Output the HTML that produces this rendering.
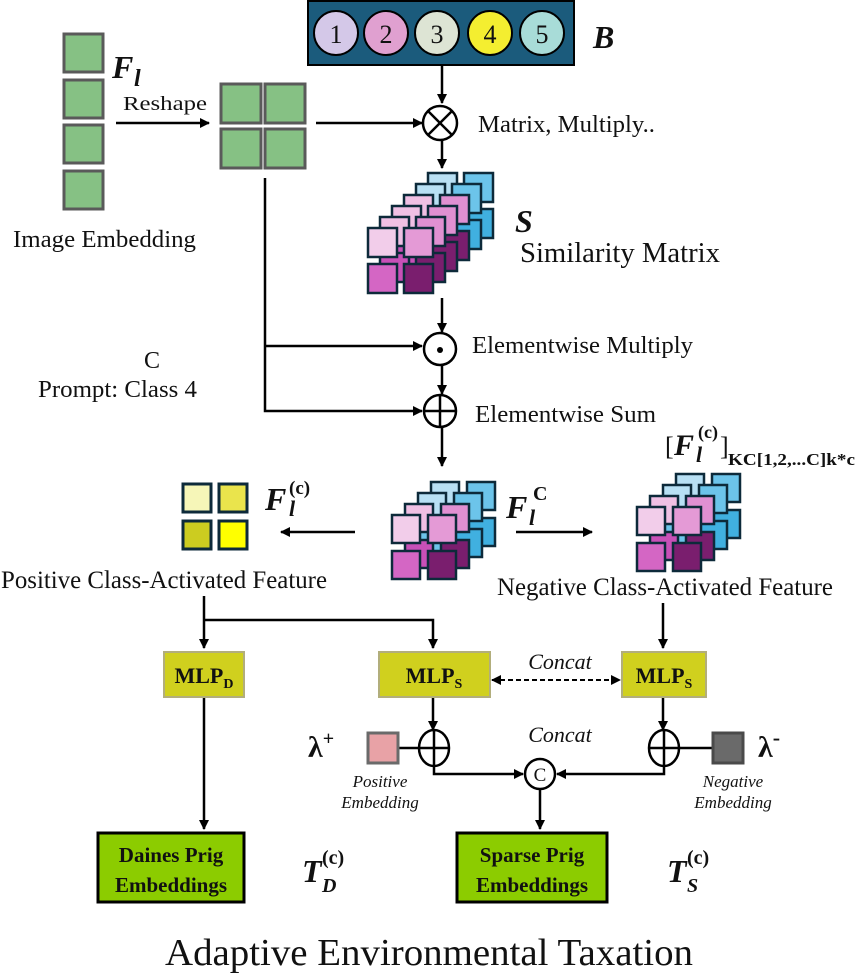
<!DOCTYPE html>
<html><head><meta charset="utf-8"><style>
html,body{margin:0;padding:0;background:#fff}
svg{display:block}
text{font-family:"Liberation Serif",serif;fill:#111}
</style></head><body>
<svg id="s" width="858" height="979" viewBox="0 0 858 979" xmlns="http://www.w3.org/2000/svg">
<defs>
<marker id="a" markerWidth="10" markerHeight="10" refX="9" refY="5" orient="auto" markerUnits="userSpaceOnUse"><path d="M0,0 L10,5 L0,10 z" fill="#000"/></marker>
<marker id="b" markerWidth="10" markerHeight="10" refX="1" refY="5" orient="auto" markerUnits="userSpaceOnUse"><path d="M10,0 L0,5 L10,10 z" fill="#000"/></marker>
</defs>
<g fill="#86c184" stroke="#5a5a5a" stroke-width="3">
<rect x="64" y="34" width="39" height="38"/><rect x="64" y="80" width="39" height="38"/>
<rect x="64" y="125" width="39" height="38"/><rect x="64" y="171" width="39" height="38"/>
<rect x="221" y="84" width="40" height="39"/><rect x="265" y="84" width="40" height="39"/>
<rect x="221" y="129" width="40" height="39"/><rect x="265" y="129" width="40" height="39"/>
</g>
<text x="112" y="78" font-size="32" font-weight="bold" font-style="italic">F</text>
<text x="134" y="86" font-size="24" font-weight="bold" font-style="italic">l</text>
<text x="123" y="110" font-size="20" textLength="84" lengthAdjust="spacingAndGlyphs">Reshape</text>
<line x1="116" y1="123" x2="209" y2="123" stroke="#000" stroke-width="2.5" marker-end="url(#a)"/>
<text x="13" y="247" font-size="24.5" textLength="183" lengthAdjust="spacingAndGlyphs">Image Embedding</text>
<rect x="308" y="1" width="266" height="64" fill="#1b5b7c" stroke="#000" stroke-width="2"/>
<g stroke="#000" stroke-width="2">
<circle cx="336" cy="33" r="22" fill="#d4c8e8"/><circle cx="386" cy="33" r="22" fill="#e0a0d0"/>
<circle cx="437" cy="33" r="22" fill="#dde4d4"/><circle cx="490" cy="33" r="22" fill="#f4ee30"/>
<circle cx="542" cy="33" r="22" fill="#a8dcd8"/></g>
<g font-size="26" text-anchor="middle"><text x="336" y="43">1</text><text x="386" y="43">2</text><text x="437" y="43">3</text><text x="490" y="43">4</text><text x="542" y="43">5</text></g>
<text x="593" y="48" font-size="32" font-weight="bold" font-style="italic">B</text>
<g stroke="#000" stroke-width="2.5" fill="none">
<line x1="442" y1="66" x2="442" y2="103" marker-end="url(#a)"/>
<line x1="316" y1="123" x2="422" y2="123" marker-end="url(#a)"/>
<circle cx="440" cy="123" r="17"/><line x1="428" y1="111" x2="452" y2="135"/><line x1="452" y1="111" x2="428" y2="135"/>
<line x1="442" y1="140" x2="442" y2="168" marker-end="url(#a)"/>
<line x1="442" y1="298" x2="442" y2="332" marker-end="url(#a)"/>
<circle cx="440" cy="349" r="16"/>
<line x1="442" y1="366" x2="442" y2="394" marker-end="url(#a)"/>
<circle cx="440" cy="411" r="16"/><line x1="424" y1="411" x2="456" y2="411"/><line x1="440" y1="395" x2="440" y2="427"/>
<line x1="442" y1="428" x2="442" y2="466" marker-end="url(#a)"/>
<polyline points="265,178 265,411 422,411" marker-end="url(#a)"/>
<line x1="265" y1="346" x2="422" y2="346" marker-end="url(#a)"/>
<line x1="355" y1="532" x2="281" y2="532" marker-end="url(#a)"/>
<line x1="516" y1="532" x2="592" y2="532" marker-end="url(#a)"/>
</g>
<circle cx="440" cy="350" r="3" fill="#000"/>
<text x="478" y="132" font-size="24.5" textLength="177" lengthAdjust="spacingAndGlyphs">Matrix, Multiply..</text>
<text x="515" y="232" font-size="32" font-weight="bold" font-style="italic">S</text>
<text x="520" y="262" font-size="28.5" textLength="200" lengthAdjust="spacingAndGlyphs">Similarity Matrix</text>
<text x="472" y="353" font-size="24.5" textLength="221" lengthAdjust="spacingAndGlyphs">Elementwise Multiply</text>
<text x="475" y="422" font-size="24.5" textLength="181" lengthAdjust="spacingAndGlyphs">Elementwise Sum</text>
<text x="152" y="368" font-size="24" text-anchor="middle">C</text>
<text x="38" y="397" font-size="24.5" textLength="159" lengthAdjust="spacingAndGlyphs">Prompt: Class 4</text>
<g id="cubes"></g>
<g stroke="#0d2a3a" stroke-width="3">
<rect x="183" y="484" width="28" height="28" fill="#f6f6b8"/><rect x="219" y="484" width="28" height="28" fill="#eae44c"/>
<rect x="183" y="521" width="28" height="28" fill="#cccc20"/><rect x="219" y="521" width="28" height="28" fill="#ffff00"/>
</g>
<text x="265" y="510" font-size="32" font-weight="bold" font-style="italic">F</text>
<text x="289" y="516" font-size="22" font-weight="bold" font-style="italic">l</text>
<text x="289" y="494" font-size="19" font-weight="bold">(c)</text>
<text x="506" y="518" font-size="32" font-weight="bold" font-style="italic">F</text>
<text x="529" y="525" font-size="22" font-weight="bold" font-style="italic">l</text>
<text x="533" y="500" font-size="20" font-weight="bold">C</text>
<text x="665" y="455" font-size="26">[</text>
<text x="674" y="455" font-size="30" font-weight="bold" font-style="italic">F</text>
<text x="696" y="462" font-size="22" font-weight="bold" font-style="italic">l</text>
<text x="698" y="438" font-size="18" font-weight="bold">(c)</text>
<text x="720" y="455" font-size="26">]</text>
<text x="728" y="465" font-size="17" font-weight="bold" textLength="127" lengthAdjust="spacingAndGlyphs">KC[1,2,...C]k*c</text>
<text x="1" y="588" font-size="25" textLength="326" lengthAdjust="spacingAndGlyphs">Positive Class-Activated Feature</text>
<text x="497" y="595" font-size="25" textLength="336" lengthAdjust="spacingAndGlyphs">Negative Class-Activated Feature</text>
<g stroke="#000" stroke-width="2.5" fill="none">
<line x1="204" y1="596" x2="204" y2="648" marker-end="url(#a)"/>
<polyline points="204,620 433,620 433,648" marker-end="url(#a)"/>
<line x1="663" y1="603" x2="663" y2="648" marker-end="url(#a)"/>
<line x1="204" y1="697" x2="204" y2="829" marker-end="url(#a)"/>
<line x1="433" y1="697" x2="433" y2="730" marker-end="url(#a)"/>
<line x1="663" y1="697" x2="663" y2="730" marker-end="url(#a)"/>
<ellipse cx="434" cy="748" rx="15" ry="18"/><line x1="419" y1="748" x2="449" y2="748"/><line x1="434" y1="730" x2="434" y2="766"/>
<ellipse cx="664" cy="748" rx="15" ry="18"/><line x1="649" y1="748" x2="679" y2="748"/><line x1="664" y1="730" x2="664" y2="766"/>
<line x1="398" y1="748" x2="419" y2="748"/><line x1="679" y1="748" x2="712" y2="748"/>
<polyline points="434,766 434,774 523,774" marker-end="url(#a)"/>
<polyline points="664,766 664,774 557,774" marker-end="url(#a)"/>
<circle cx="540" cy="774" r="15"/>
<line x1="540" y1="789" x2="540" y2="829" marker-end="url(#a)"/>
<line x1="492" y1="680" x2="620" y2="680" stroke-dasharray="5,3" stroke-width="2" marker-end="url(#a)" marker-start="url(#b)"/>
</g>
<text x="540" y="781" font-size="19" text-anchor="middle">C</text>
<g fill="#d0d01e" stroke="#b2ae7c" stroke-width="2">
<rect x="164" y="652" width="80" height="45"/><rect x="379" y="652" width="111" height="45"/><rect x="622" y="652" width="84" height="45"/>
</g>
<g font-size="22" font-weight="bold" text-anchor="middle">
<text x="204" y="683">MLP<tspan font-size="14" dy="5">D</tspan></text>
<text x="434" y="683">MLP<tspan font-size="14" dy="5">S</tspan></text>
<text x="664" y="683">MLP<tspan font-size="14" dy="5">S</tspan></text>
</g>
<text x="560" y="669" font-size="22" font-style="italic" text-anchor="middle">Concat</text>
<text x="560" y="742" font-size="22" font-style="italic" text-anchor="middle">Concat</text>
<rect x="368" y="733" width="30" height="30" fill="#e8a2a6" stroke="#6a6a6a" stroke-width="3"/>
<rect x="713" y="733" width="30" height="30" fill="#6a6a6a" stroke="#4a4a4a" stroke-width="3"/>
<text x="308" y="757" font-size="30" font-weight="bold">λ<tspan font-size="20" dy="-12">+</tspan></text>
<text x="758" y="757" font-size="30" font-weight="bold">λ<tspan font-size="22" dy="-12">-</tspan></text>
<g font-size="17" font-style="italic" fill="#333" text-anchor="middle">
<text x="380" y="787">Positive</text><text x="380" y="808">Embedding</text>
<text x="733" y="787">Negative</text><text x="733" y="808">Embedding</text>
</g>
<g fill="#8ccc00" stroke="#000" stroke-width="3">
<rect x="98" y="833" width="146" height="69"/><rect x="457" y="833" width="150" height="69"/>
</g>
<g font-size="21" font-weight="bold" text-anchor="middle">
<text x="171" y="862">Daines Prig</text><text x="171" y="892">Embeddings</text>
<text x="532" y="862">Sparse Prig</text><text x="532" y="892">Embeddings</text>
</g>
<text x="302" y="882" font-size="32" font-weight="bold" font-style="italic">T</text>
<text x="322" y="892" font-size="20" font-weight="bold" font-style="italic">D</text>
<text x="322" y="864" font-size="20" font-weight="bold">(c)</text>
<text x="667" y="882" font-size="32" font-weight="bold" font-style="italic">T</text>
<text x="687" y="892" font-size="20" font-weight="bold" font-style="italic">S</text>
<text x="687" y="864" font-size="20" font-weight="bold">(c)</text>
<text x="165" y="965" font-size="38" textLength="528" lengthAdjust="spacingAndGlyphs">Adaptive Environmental Taxation</text>
</svg>
<script>
(function(){
var g=document.getElementById('cubes'),ns='http://www.w3.org/2000/svg';
function cube(fx,fy,n,dx,dy,sz,p){
 for(var i=n-1;i>=0;i--){
  var x=fx+i*dx,y=fy+i*dy,c;
  if(i>=n-2)c=['#b8e0f4','#6cc4ea','#6cc4ea','#40b0e0'];
  else if(i==0)c=['#f2cdea','#e49ad6','#d466c4','#7a1e6e'];
  else c=['#f0c0e4','#e090d2','#c850b8','#7a1e6e'];
  var pos=[[0,0],[p,0],[0,p],[p,p]];
  for(var k=0;k<4;k++){
   var r=document.createElementNS(ns,'rect');
   r.setAttribute('x',x+pos[k][0]);r.setAttribute('y',y+pos[k][1]);
   r.setAttribute('width',sz);r.setAttribute('height',sz);
   r.setAttribute('fill',c[k]);r.setAttribute('stroke','#0d2a3a');r.setAttribute('stroke-width','2.5');
   g.appendChild(r);
  }
 }
}
cube(368,228,6,12,-11,29,36);
cube(392,515,4,13,-11,28,36);
cube(637,507,4,13,-11,28,36);
})();
</script>
</body></html>
